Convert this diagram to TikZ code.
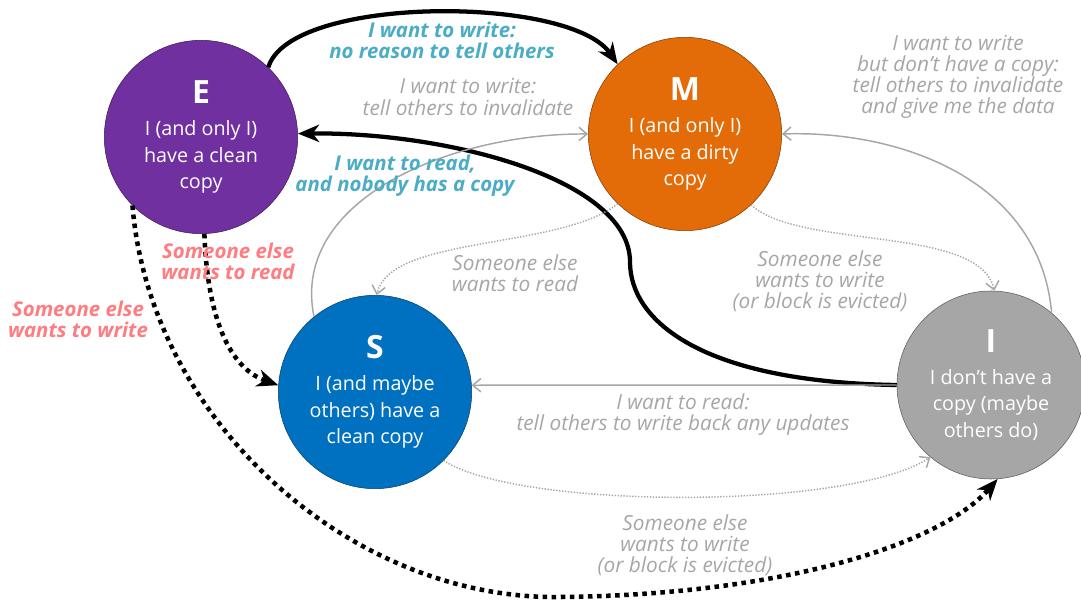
\documentclass[tikz,border=0pt]{standalone}
\usepackage{fontspec}
\setmainfont{Open Sans}
\usetikzlibrary{arrows.meta}
\definecolor{exclFill}{HTML}{7030A0}
\definecolor{modFill}{HTML}{E36C09}
\definecolor{shrFill}{HTML}{0070C0}
\definecolor{invFill}{HTML}{A6A6A6}
\definecolor{tealText}{HTML}{4BACC6}
\definecolor{pinkText}{HTML}{FF7C80}
\definecolor{greyText}{HTML}{A6A6A6}
\newcommand{\stname}[1]{{\fontsize{24}{24}\selectfont\bfseries #1}}
\begin{document}
\begin{tikzpicture}[x=0.75pt,y=0.75pt,yscale=-1,xscale=1,
    state/.style={circle,draw=#1!55!black,fill=#1,text=white,align=center,
        minimum size=145pt,inner sep=0pt,font=\fontsize{14.8}{20}\selectfont},
    lbl/.style={align=center,inner sep=0.75pt,font=\fontsize{15.6}{15.8}\selectfont\itshape},
    hint/.style={lbl,text=greyText},
    cheap/.style={lbl,text=tealText,font=\fontsize{15.3}{15.8}\selectfont\bfseries\itshape},
    snoop/.style={lbl,text=pinkText,font=\fontsize{15.3}{15.8}\selectfont\bfseries\itshape},
    bold arrow/.style={line width=3.2pt,-{Stealth[length=16pt,width=13pt,inset=5pt]}},
    bus dots/.style={line width=3.4pt,dash pattern=on 3.4pt off 3.4pt,-{Stealth[length=16pt,width=13pt,inset=5pt]}},
    grey arrow/.style={draw=greyText,line width=1.1pt,-{Straight Barb[length=6pt,width=10pt]}},
    grey dots/.style={grey arrow,dash pattern=on 1pt off 1.2pt}]
    \useasboundingbox (0,0) rectangle (1081,605);

    % states
    \node [state=exclFill] (E) at (201,137) {\stname{E}\\[4pt]I (and only I)\\have a clean\\copy};
    \node [state=modFill] (M) at (685,134) {\stname{M}\\[4pt]I (and only I)\\have a dirty\\copy};
    \node [state=shrFill] (S) at (375,392) {\stname{S}\\[4pt]I (and maybe\\others) have a\\clean copy};
    \node [state=invFill,minimum size=141pt] (I) at (991,385) {\stname{I}\\[4pt]I don’t have a\\copy (maybe\\others do)};

    % transitions
    \draw [bold arrow] (E.46) .. controls (290,-5) and (570,-5) .. (M.134);
    \draw [bold arrow] (I.west) .. controls (700,382) and (630,320) .. (630,262) .. controls (630,180) and (450,132) .. (E.2);
    \draw [bus dots] (E.-88) .. controls (208,330) and (235,370) .. (S.176);
    \draw [bus dots] (E.-135) .. controls (150,420) and (350,600) .. (560,597) .. controls (780,595) and (940,545) .. (I.-86);
    \draw [grey arrow] (S.129) .. controls (290,200) and (450,133) .. (M.west);
    \draw [grey dots] (M.226) .. controls (560,250) and (390,235) .. (S.89);
    \draw [grey dots] (M.-47) .. controls (800,250) and (980,225) .. (I.88);
    \draw [grey arrow] (I.50) .. controls (1040,180) and (900,130) .. (M.east);
    \draw [grey arrow] (I.west) -- (S.4);
    \draw [grey dots] (S.-45) .. controls (520,510) and (850,510) .. (I.230);

    % labels
    \node [cheap] (lblEM) at (442,40) {I want to write:\\no reason to tell others};
    \node [hint] (lblSM) at (468,97) {I want to write:\\tell others to invalidate};
    \node [cheap] (lblIE) at (405,176) {I want to read,\\and nobody has a copy};
    \node [snoop] (lblES) at (228,261) {Someone else\\wants to read};
    \node [snoop] (lblEI) at (78,319) {Someone else\\wants to write};
    \node [hint] (lblMS) at (515,273) {Someone else\\wants to read};
    \node [hint] (lblMI) at (820,281) {Someone else\\wants to write\\(or block is evicted)};
    \node [hint] (lblIM) at (958,77) {I want to write\\but don’t have a copy:\\tell others to invalidate\\and give me the data};
    \node [hint] (lblIS) at (683,415) {I want to read:\\tell others to write back any updates};
    \node [hint] (lblSI) at (685,545) {Someone else\\wants to write\\(or block is evicted)};
\end{tikzpicture}
\end{document}
